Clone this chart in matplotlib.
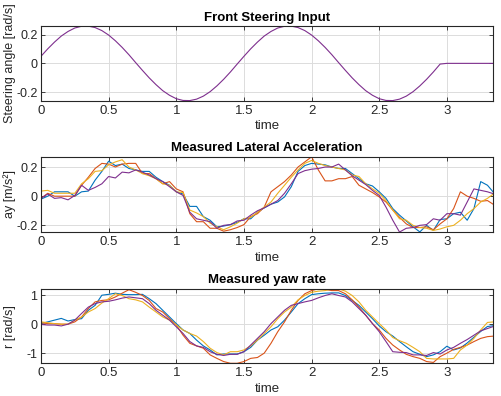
import numpy as np
import matplotlib
matplotlib.use("Agg")
import matplotlib.pyplot as plt

# time base (s), 0.05 s steps
t = np.round(np.arange(0, 3.351, 0.05), 2)

# steering input [rad], flat zero after the last cycle
steer_half = [0.049, 0.101, 0.148, 0.190, 0.222, 0.246, 0.258, 0.259, 0.249, 0.228,
              0.197, 0.157, 0.111, 0.060, 0.005]
steer = (steer_half + [-v for v in steer_half] + steer_half + [-v for v in steer_half]
         + [0.0] * 8)

# measured lateral acceleration [m/s^2]
ay_blue = [-0.02, 0.0, 0.03, 0.03, 0.03, 0.0, 0.03, 0.035, 0.11, 0.17,
           0.24, 0.21, 0.22, 0.19, 0.18, 0.17, 0.17, 0.13, 0.10, 0.075,
           0.03, 0.015, -0.07, -0.07, -0.14, -0.165, -0.21, -0.205, -0.195, -0.18,
           -0.155, -0.155, -0.11, -0.08, -0.055, -0.04, -0.005, 0.065, 0.17, 0.21,
           0.225, 0.22, 0.215, 0.20, 0.19, 0.19, 0.155, 0.12, 0.085, 0.07,
           0.03, -0.015, -0.085, -0.13, -0.17, -0.21, -0.245, -0.2, -0.235, -0.16,
           -0.155, -0.12, -0.11, -0.165, -0.085, 0.10, 0.075, 0.02]
ay_orange = [-0.015, 0.02, 0.0, 0.0, 0.0, 0.0, 0.075, 0.13, 0.19, 0.225,
             0.22, 0.2, 0.22, 0.225, 0.225, 0.155, 0.155, 0.12, 0.085, 0.1,
             0.05, 0.03, -0.12, -0.175, -0.175, -0.22, -0.22, -0.24, -0.23, -0.215,
             -0.195, -0.14, -0.12, -0.075, 0.03, 0.065, 0.10, 0.145, 0.20, 0.235,
             0.27, 0.18, 0.105, 0.105, 0.12, 0.12, 0.135, 0.075, 0.05, 0.025,
             -0.005, -0.04, -0.095, -0.145, -0.19, -0.215, -0.215, -0.21, -0.23, -0.19,
             -0.155, -0.085, 0.03, 0.0, -0.015, -0.035, -0.03, -0.06]
ay_yellow = [0.035, 0.04, 0.02, 0.02, 0.02, 0.02, 0.085, 0.12, 0.17, 0.175,
             0.215, 0.235, 0.25, 0.2, 0.18, 0.155, 0.14, 0.12, 0.085, 0.075,
             0.03, 0.025, -0.095, -0.115, -0.14, -0.185, -0.21, -0.23, -0.21, -0.185,
             -0.155, -0.145, -0.11, -0.075, -0.04, 0.02, 0.075, 0.13, 0.18, 0.225,
             0.245, 0.225, 0.21, 0.2, 0.19, 0.18, 0.145, 0.135, 0.085, 0.05,
             0.02, -0.03, -0.095, -0.155, -0.165, -0.2, -0.215, -0.22, -0.235, -0.225,
             -0.21, -0.2, -0.165, -0.12, -0.085, -0.04, -0.015, 0.02]
ay_purple = [-0.015, 0.015, -0.015, -0.01, -0.025, 0.005, 0.075, 0.04, 0.06, 0.085,
             0.135, 0.125, 0.165, 0.16, 0.18, 0.165, 0.145, 0.12, 0.10, 0.065,
             0.03, 0.005, -0.11, -0.155, -0.165, -0.175, -0.22, -0.2, -0.195, -0.17,
             -0.165, -0.13, -0.1, -0.08, -0.055, -0.03, 0.02, 0.085, 0.155, 0.175,
             0.185, 0.19, 0.2, 0.2, 0.22, 0.18, 0.14, 0.11, 0.08, 0.04,
             0.005, -0.075, -0.165, -0.246, -0.22, -0.215, -0.2, -0.195, -0.155, -0.165,
             -0.12, -0.12, -0.13, -0.04, 0.05, 0.04, 0.03, 0.015]

# measured yaw rate [rad/s]
r_blue = [0.02, 0.08, 0.14, 0.2, 0.11, 0.16, 0.19, 0.48, 0.65, 1.0,
          1.03, 1.07, 1.03, 1.02, 1.02, 1.03, 0.88, 0.71, 0.48, 0.25,
          0.02, -0.2, -0.32, -0.55, -0.75, -0.89, -1.06, -1.03, -1.03, -1.03,
          -0.95, -0.8, -0.55, -0.38, -0.2, -0.09, 0.14, 0.42, 0.71, 0.88,
          1.02, 1.05, 1.07, 1.08, 1.08, 0.99, 0.82, 0.65, 0.42, 0.19,
          -0.06, -0.26, -0.41, -0.6, -0.78, -0.95, -1.04, -1.12, -1.06, -0.95,
          -0.76, -0.89, -0.82, -0.65, -0.45, -0.25, -0.08, -0.05]
r_orange = [0.05, 0.02, 0.02, 0.0, 0.0, 0.08, 0.25, 0.54, 0.77, 0.82,
            0.84, 0.94, 1.07, 1.19, 1.1, 0.99, 0.82, 0.54, 0.42, 0.19,
            -0.03, -0.38, -0.66, -0.75, -0.83, -1.06, -1.18, -1.29, -1.35, -1.35,
            -1.29, -1.18, -1.15, -1.0, -0.66, -0.26, 0.08, 0.48, 0.82, 1.05,
            1.16, 1.22, 1.2, 1.16, 1.16, 1.05, 0.84, 0.59, 0.31, 0.02,
            -0.2, -0.49, -0.72, -0.89, -1.04, -1.12, -1.18, -1.29, -1.32, -1.12,
            -1.0, -0.87, -0.8, -0.72, -0.6, -0.49, -0.43, -0.41]
r_yellow = [0.08, 0.05, 0.02, 0.0, 0.0, 0.14, 0.25, 0.42, 0.54, 0.73,
            0.88, 1.05, 0.99, 0.88, 0.84, 0.77, 0.59, 0.42, 0.25, 0.14,
            -0.03, -0.2, -0.32, -0.41, -0.6, -0.83, -0.98, -1.06, -0.95, -0.95,
            -0.89, -0.75, -0.55, -0.32, -0.09, 0.19, 0.42, 0.59, 0.84, 0.99,
            1.1, 1.14, 1.16, 1.22, 1.22, 1.14, 0.99, 0.77, 0.48, 0.25,
            0.02, -0.2, -0.46, -0.57, -0.66, -0.8, -0.95, -1.18, -1.2, -1.2,
            -1.2, -1.18, -0.89, -0.72, -0.49, -0.2, 0.06, 0.08]
r_purple = [-0.01, -0.03, -0.03, -0.06, 0.0, 0.14, 0.37, 0.59, 0.71, 0.77,
            0.79, 0.84, 0.9, 0.94, 0.91, 0.88, 0.71, 0.48, 0.31, 0.14,
            -0.09, -0.32, -0.6, -0.75, -0.8, -0.95, -1.04, -1.08, -1.04, -1.04,
            -0.95, -0.72, -0.49, -0.26, 0.02, 0.25, 0.48, 0.65, 0.71, 0.77,
            0.82, 0.91, 0.99, 1.05, 0.99, 0.94, 0.77, 0.54, 0.31, 0.02,
            -0.26, -0.6, -0.95, -0.97, -0.98, -1.06, -1.06, -1.08, -0.98, -1.03,
            -0.89, -0.8, -0.66, -0.53, -0.38, -0.23, -0.15, -0.07]

colors = ['#0072BD', '#D95319', '#EDB120', '#7E2F8E']
fg = '#262626'

plt.rcParams['font.family'] = ['Liberation Sans', 'DejaVu Sans']
plt.rcParams['axes.unicode_minus'] = False

fig = plt.figure(figsize=(5.01, 3.96), dpi=100)
positions = [[0.0818, 0.746, 0.902, 0.188],
             [0.0818, 0.414, 0.902, 0.190],
             [0.0818, 0.0826, 0.902, 0.188]]
titles = ['Front Steering Input', 'Measured Lateral Acceleration', 'Measured yaw rate']
ylabels = ['Steering angle [rad/s]', 'ay [m/s²]', 'r [rad/s]']
# the steering plot only shows the last (purple) trace on top of identical ones
datasets = [[None, None, None, steer],
            [ay_blue, ay_orange, ay_yellow, ay_purple],
            [r_blue, r_orange, r_yellow, r_purple]]
yticks = [[-0.2, 0, 0.2], [-0.2, 0, 0.2], [-1, 0, 1]]
yticklabels = [['-0.2', '0', '0.2'], ['-0.2', '0', '0.2'], ['-1', '0', '1']]

for pos, title, ylab, series, yt, ytl in zip(positions, titles, ylabels, datasets,
                                             yticks, yticklabels):
    ax = fig.add_axes(pos)
    vals = []
    for ys, c in zip(series, colors):
        if ys is None:
            continue
        ax.plot(t, ys, color=c, lw=0.8)
        vals.extend(ys)
    ax.set_xlim(0, 3.34)
    ax.set_ylim(min(vals), max(vals))
    ax.set_xticks([0, 0.5, 1, 1.5, 2, 2.5, 3])
    ax.set_xticklabels(['0', '0.5', '1', '1.5', '2', '2.5', '3'])
    ax.set_yticks(yt)
    ax.set_yticklabels(ytl)
    ax.grid(True, color='#dcdcdc', lw=0.7)
    ax.set_axisbelow(True)
    ax.tick_params(direction='in', top=True, right=True, length=3, width=0.6,
                   colors=fg, labelsize=9.5, pad=3)
    ax.tick_params(axis='y', labelsize=9, pad=2.5)
    for sp in ax.spines.values():
        sp.set_color(fg)
        sp.set_linewidth(0.8)
    ax.set_title(title, fontsize=9.5, fontweight='bold', color='black', pad=4)
    ax.set_xlabel('time', fontsize=9.5, color=fg, labelpad=2.5)
    ax.set_ylabel(ylab, fontsize=9, color=fg)
    ax.yaxis.set_label_coords(-0.056, 0.5)

fig.savefig('out.png', dpi=100)
